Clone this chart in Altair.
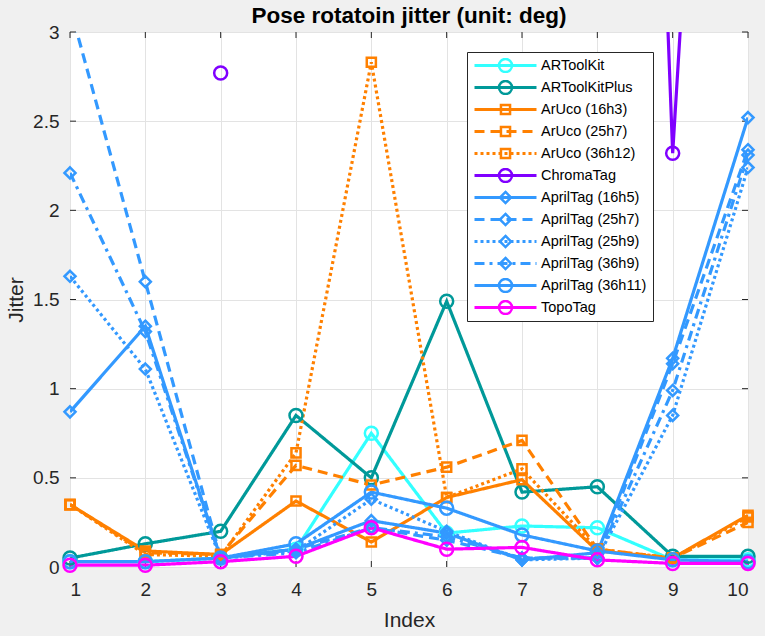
import altair as alt
import pandas as pd
import numpy as np

nan = float("nan")

index = [1, 2, 3, 4, 5, 6, 7, 8, 9, 10]
series_names = [
    "ARToolKit", "ARToolKitPlus", "ArUco (16h3)", "ArUco (25h7)", "ArUco (36h12)",
    "ChromaTag", "AprilTag (16h5)", "AprilTag (25h7)", "AprilTag (25h9)",
    "AprilTag (36h9)", "AprilTag (36h11)", "TopoTag",
]
artoolkit      = [0.03, 0.03, 0.05, 0.10, 0.75, 0.19, 0.23, 0.22, 0.04, 0.04]
artoolkitplus  = [0.05, 0.13, 0.20, 0.85, 0.50, 1.49, 0.42, 0.45, 0.06, 0.06]
aruco_16h3     = [0.35, 0.09, 0.07, 0.37, 0.14, 0.39, 0.49, 0.09, 0.05, 0.29]
aruco_25h7     = [0.35, 0.08, 0.07, 0.57, 0.46, 0.56, 0.71, 0.10, 0.05, 0.25]
aruco_36h12    = [0.35, 0.07, 0.06, 0.64, 2.83, 0.39, 0.55, 0.10, 0.05, 0.28]
chromatag      = [nan, nan, 2.77, nan, nan, nan, nan, 13.4, 2.32, 9.2]
apriltag_16h5  = [0.87, 1.35, 0.05, 0.10, 0.26, 0.19, 0.04, 0.08, 1.17, 2.52]
apriltag_25h7  = [3.14, 1.60, 0.05, 0.10, 0.22, 0.15, 0.05, 0.05, 1.14, 2.34]
apriltag_25h9  = [1.63, 1.11, 0.05, 0.09, 0.38, 0.20, 0.04, 0.05, 0.85, 2.24]
apriltag_36h9  = [2.21, 1.32, 0.05, 0.08, 0.22, 0.17, 0.05, 0.05, 0.99, 2.31]
apriltag_36h11 = [0.03, 0.03, 0.05, 0.13, 0.42, 0.33, 0.18, 0.09, 0.04, 0.03]
topotag        = [0.01, 0.01, 0.03, 0.06, 0.22, 0.10, 0.11, 0.04, 0.02, 0.02]

colors = ["#33FFFF", "#009999", "#FF8000", "#FF8000", "#FF8000", "#8000FF",
          "#3399FF", "#3399FF", "#3399FF", "#3399FF", "#3399FF", "#FF00FF"]
SOLID, DASH, DOT, DASHDOT = [1, 0], [10, 6], [3, 3], [10, 5, 3, 5]
dashes = [SOLID, SOLID, SOLID, DASH, DOT, SOLID, SOLID, DASH, DOT, DASHDOT, SOLID, SOLID]
SQUARE = "M-0.7,-0.7H0.7V0.7H-0.7Z"
DIAMOND = "M0,-0.85L0.85,0L0,0.85L-0.85,0Z"
shapes = ["circle", "circle", SQUARE, SQUARE, SQUARE, "circle",
          DIAMOND, DIAMOND, DIAMOND, DIAMOND, "circle", "circle"]

x_ticks = list(range(1, 11))
y_ticks = [0, 0.5, 1, 1.5, 2, 2.5, 3]

all_series = [artoolkit, artoolkitplus, aruco_16h3, aruco_25h7, aruco_36h12, chromatag,
              apriltag_16h5, apriltag_25h7, apriltag_25h9, apriltag_36h9, apriltag_36h11, topotag]

rows = []
for name, vals in zip(series_names, all_series):
    seg = 0
    for i, v in zip(index, vals):
        if np.isnan(v):
            seg += 1
            continue
        rows.append({"index": i, "jitter": v, "series": name, "seg": f"{name}#{seg}"})
df = pd.DataFrame(rows)

W, H = 678, 535
FONT = "Liberation Sans"

xscale = alt.Scale(domain=[1, 10], nice=False, zero=False)
yscale = alt.Scale(domain=[0, 3], nice=False, zero=False)
xaxis = alt.Axis(values=x_ticks, title="Index", grid=True, ticks=False, tickSize=0, domain=False,
                 labelFontSize=19, labelFont=FONT, labelColor="#262626", labelPadding=13,
                 titleFontSize=21, titleFont=FONT, titleColor="#262626", titleFontWeight="normal",
                 titlePadding=10, gridColor="#E3E3E3", format="d")
yaxis = alt.Axis(values=y_ticks, title="Jitter", grid=True, ticks=False, tickSize=0, domain=False,
                 labelFontSize=19, labelFont=FONT, labelColor="#262626", labelPadding=11,
                 titleFontSize=21, titleFont=FONT, titleColor="#262626", titleFontWeight="normal",
                 titlePadding=6, gridColor="#E3E3E3", format="~g")

legA = alt.Legend(
    orient="none", legendX=397, legendY=20, title=None, direction="vertical", columns=1,
    symbolType="stroke", symbolSize=3844, symbolStrokeWidth=3,
    labelFont=FONT, labelFontSize=14.5, labelColor="black", labelLimit=300, labelOffset=3,
    clipHeight=15, rowPadding=6, padding=6, fillColor="white", strokeColor="#262626",
    symbolOpacity=1, zindex=1,
)
legB = alt.Legend(
    orient="none", legendX=397, legendY=20, title=None, direction="vertical", columns=1,
    symbolSize=169, symbolStrokeWidth=2.5, symbolOffset=24.5,
    labelFont=FONT, labelFontSize=14.5, labelExpr="''", labelLimit=300, labelOffset=3,
    clipHeight=15, rowPadding=6, padding=6, symbolOpacity=1, zindex=2,
)

base = alt.Chart(df)
lines = base.mark_line(strokeWidth=3.2, clip=True).encode(
    x=alt.X("index:Q", scale=xscale, axis=xaxis),
    y=alt.Y("jitter:Q", scale=yscale, axis=yaxis),
    color=alt.Color("series:N", scale=alt.Scale(domain=series_names, range=colors), legend=legA),
    strokeDash=alt.StrokeDash("series:N", scale=alt.Scale(domain=series_names, range=dashes), legend=legA),
    detail="seg:N",
)
points = base.mark_point(filled=False, strokeWidth=2.5, size=169, opacity=1).encode(
    x=alt.X("index:Q", scale=xscale, axis=xaxis),
    y=alt.Y("jitter:Q", scale=yscale, axis=yaxis),
    color=alt.Color("series:N", scale=alt.Scale(domain=series_names, range=colors), legend=legB),
    shape=alt.Shape("series:N", scale=alt.Scale(domain=series_names, range=shapes), legend=legB),
).transform_filter(alt.datum.jitter <= 3)

xt = alt.Chart(pd.DataFrame({"t": x_ticks}))
yt = alt.Chart(pd.DataFrame({"t": y_ticks}))
TK = "#262626"
xtick_b = xt.mark_rule(color=TK, strokeWidth=1).encode(
    x=alt.X("t:Q", scale=xscale, axis=xaxis), y=alt.value(H), y2=alt.value(H - 6))
xtick_t = xt.mark_rule(color=TK, strokeWidth=1).encode(
    x=alt.X("t:Q", scale=xscale, axis=xaxis), y=alt.value(0), y2=alt.value(6))
ytick_l = yt.mark_rule(color=TK, strokeWidth=1).encode(
    y=alt.Y("t:Q", scale=yscale, axis=yaxis), x=alt.value(0), x2=alt.value(6))
ytick_r = yt.mark_rule(color=TK, strokeWidth=1).encode(
    y=alt.Y("t:Q", scale=yscale, axis=yaxis), x=alt.value(W), x2=alt.value(W - 6))

chart = alt.layer(xtick_b, xtick_t, ytick_l, ytick_r, lines, points).resolve_scale(
    color="independent", shape="independent", strokeDash="independent"
).properties(
    width=W, height=H,
    title=alt.TitleParams("Pose rotatoin jitter (unit: deg)", font=FONT, fontSize=22.5,
                          fontWeight="bold", color="black", anchor="middle", frame="group",
                          baseline="alphabetic", offset=0, dy=22),
    autosize=alt.AutoSizeParams(type="none"),
    padding={"left": 70, "top": 32, "right": 17, "bottom": 69},
).configure(background="#F0F0F0").configure_view(fill="white", stroke="#262626", strokeWidth=1)

chart.save("out.html", embed_options={"renderer": "svg", "actions": False})
